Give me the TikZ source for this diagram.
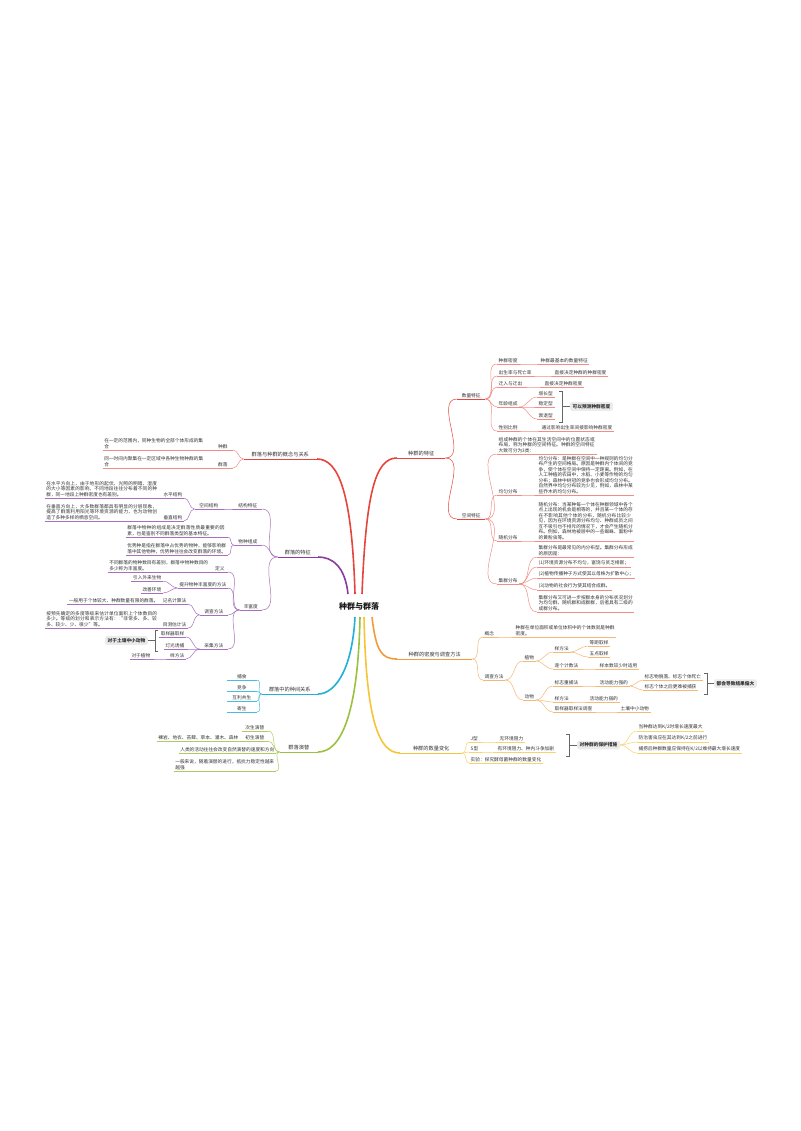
\documentclass[tikz,border=0pt]{standalone}
\usepackage{fontspec}
\setmainfont{Noto Sans CJK SC}
\XeTeXlinebreaklocale "zh"
\XeTeXlinebreakskip=0pt plus 1pt
\definecolor{redA}{HTML}{E5453C}
\definecolor{redB}{HTML}{F08E86}
\definecolor{oraA}{HTML}{F39A3A}
\definecolor{oraB}{HTML}{F6B877}
\definecolor{yelA}{HTML}{F5C537}
\definecolor{yelB}{HTML}{F6D46E}
\definecolor{purA}{HTML}{8A3BA0}
\definecolor{purB}{HTML}{A870BC}
\definecolor{cyaA}{HTML}{22B0D6}
\definecolor{cyaB}{HTML}{45BEDF}
\definecolor{grnA}{HTML}{9DC03F}
\definecolor{grnB}{HTML}{AFCB5F}
\definecolor{boxg}{HTML}{EBEBEB}
\definecolor{txt}{HTML}{333333}
\newcommand\mmR[3]{\draw[draw=#1,line width=0.5pt] (#2.south east) to[out=0,in=180] (#3.south west);}
\newcommand\mmL[3]{\draw[draw=#1,line width=0.5pt] (#2.south west) to[out=180,in=0] (#3.south east);}
\begin{document}
\begin{tikzpicture}[x=1pt,y=-1pt,
  t/.style={font=\fontsize{4.7}{5.5}\selectfont, inner xsep=1.5pt, inner ysep=1.2pt, text=txt},
  u/.style 2 args={append after command={(\tikzlastnode.south west) edge[draw=#1,line width=#2] (\tikzlastnode.south east)}},
  R/.style={t,anchor=south west,u={#1}{0.5pt}},
  L/.style={t,anchor=south east,u={#1}{0.5pt}},
  P/.style={text width=#1, align=left},
  mainR/.style={t,font=\fontsize{5.2}{6}\selectfont,inner ysep=1.5pt,anchor=south west,u={#1}{0.9pt}},
  mainL/.style={t,font=\fontsize{5.2}{6}\selectfont,inner ysep=1.5pt,anchor=south east,u={#1}{0.9pt}},
  gbox/.style={fill=boxg, rounded corners=1.5pt, inner xsep=2.5pt, inner ysep=2pt, text=txt, font=\fontsize{4.7}{5.5}\selectfont\bfseries},
  brk/.style={draw=black!60, line width=0.5pt}
]
\useasboundingbox[fill=white] (0,0) rectangle (800,1131);

% root
\node[font=\fontsize{8}{9}\selectfont\bfseries, text=black!90] (root) at (359,606) {种群与群落};
\coordinate (sR1) at (362,594);
\coordinate (sL1) at (355,594);
\coordinate (sP) at (348,594);
\coordinate (sC) at (355,617);
\coordinate (sG) at (360,617);
\coordinate (sY) at (364,617);
\coordinate (sO) at (372,617);

%%%%%%%%%%%%%%%% RIGHT: 种群的特征
\node[mainR=redA,minimum width=48pt] (n1) at (397,458) {种群的特征};
\node[R=redA,minimum width=28pt] (n11) at (457,399) {数量特征};
\node[R=redA,minimum width=28pt] (n12) at (457,519) {空间特征};

\node[R=redB] (a1) at (497,364) {种群密度};
\node[R=redB] (a1c) at (539,364) {种群最基本的数量特征};
\node[R=redB] (a2) at (497,376) {出生率与死亡率};
\node[R=redB] (a2c) at (553,376) {直接决定种群的种群密度};
\node[R=redB] (a3) at (497,387) {迁入与迁出};
\node[R=redB] (a3c) at (543,387) {直接决定种群密度};
\node[R=redB] (a4) at (497,407) {年龄组成};
\node[R=redB] (a41) at (537,397) {增长型};
\node[R=redB] (a42) at (537,407) {稳定型};
\node[R=redB] (a43) at (537,419) {衰退型};
\node[R=redB] (a5) at (497,431) {性别比例};
\node[R=redB] (a5c) at (540,431) {通过影响出生率间接影响种群密度};
\draw[brk] (559,391) -- (562,391) -- (562,422) -- (559,422);
\node[gbox,anchor=west] (bx1) at (570,406.5) {可以预测种群密度};
\draw[brk] (562,406.5) -- (bx1.west);

\node[R=redB,P=97pt] (b0) at (497,454) {组成种群的个体在其生活空间中的位置状态或布局，称为种群的空间特征。种群的空间特征大致可分为3类：};
\node[R=redB] (b1) at (497,495) {均匀分布};
\node[R=redB,P=94pt] (b1c) at (537,495) {均匀分布：是种群在空间中一种规则的均匀分布产生的空间格局。原因是种群内个体间的竞争，使个体在空间中保持一定距离。例如，在人工种植的农田中，水稻、小麦等作物的均匀分布；森林中树冠的竞争也会形成均匀分布。自然界中均匀分布较为少见，例如，森林中某些乔木的均匀分布。};
\node[R=redB] (b2) at (497,541) {随机分布};
\node[R=redB,P=94pt] (b2c) at (537,541) {随机分布：当某种每一个体在种群领域中各个点上出现的机会是相等的，并且某一个体的存在不影响其他个体的分布，随机分布比较少见，因为在环境资源分布均匀、种群成员之间互不吸引也不排斥的情况下，才会产生随机分布。例如，森林地被层中的一些蜘蛛、面粉中的黄粉虫等。};
\node[R=redB] (b3) at (497,584) {集群分布};
\node[R=redB,P=94pt] (b31) at (537,557) {集群分布是最常见的内分布型。集群分布形成的原因是：};
\node[R=redB] (b32) at (537,567) {(1)环境资源分布不均匀，富饶与贫乏相嵌；};
\node[R=redB] (b33) at (537,578) {(2)植物传播种子方式使其以母株为扩散中心；};
\node[R=redB] (b34) at (537,590) {(3)动物的社会行为使其结合成群。};
\node[R=redB,P=94pt] (b35) at (537,612) {集群分布又可进一步按群本身的分布状况划分为均匀群、随机群和成群群，后者具有二级的成群分布。};

\draw[redA,line width=1.6pt] (sR1) .. controls +(4,-100) and +(-22,0) .. (n1.south west);
\mmR{redA}{n1}{n11}
\mmR{redA}{n1}{n12}
\foreach \c in {a1,a2,a3,a4,a5} {\mmR{redB}{n11}{\c}}
\mmR{redB}{a1}{a1c}
\mmR{redB}{a2}{a2c}
\mmR{redB}{a3}{a3c}
\foreach \c in {a41,a42,a43} {\mmR{redB}{a4}{\c}}
\mmR{redB}{a5}{a5c}
\foreach \c in {b0,b1,b2,b3} {\mmR{redB}{n12}{\c}}
\mmR{redB}{b1}{b1c}
\mmR{redB}{b2}{b2c}
\foreach \c in {b31,b32,b33,b34,b35} {\mmR{redB}{b3}{\c}}

%%%%%%%%%%%%%%%% RIGHT: 种群的密度与调查方法
\node[mainR=oraA,minimum width=75pt] (n2) at (397,659) {种群的密度与调查方法};
\node[R=oraB] (c1) at (483,637) {概念};
\node[R=oraB,P=99pt] (c1c) at (514,637) {种群在单位面积或单位体积中的个体数就是种群密度。};
\node[R=oraB] (c2) at (483,680) {调查方法};
\node[R=oraB] (c21) at (523,661) {植物};
\node[R=oraB] (c211) at (553,652) {样方法};
\node[R=oraB] (c2111) at (588,646) {等距取样};
\node[R=oraB] (c2112) at (588,657) {五点取样};
\node[R=oraB] (c212) at (553,669) {逐个计数法};
\node[R=oraB] (c212c) at (598,669) {样本数较少时适用};
\node[R=oraB] (c22) at (523,700) {动物};
\node[R=oraB] (c221) at (553,686) {标志重捕法};
\node[R=oraB] (c221c) at (598,686) {活动能力强的};
\node[R=oraB] (c2211) at (643,680) {标志物脱落、标志个体死亡};
\node[R=oraB] (c2212) at (643,690) {标志个体之后更难被捕获};
\node[R=oraB] (c222) at (553,702) {样方法};
\node[R=oraB] (c222c) at (588,702) {活动能力弱的};
\node[R=oraB] (c223) at (553,712) {取样器取样法调查};
\node[R=oraB] (c223c) at (619,712) {土壤中小动物};
\draw[brk] (704,673) -- (707,673) -- (707,694) -- (704,694);
\node[gbox,anchor=west] (bx2) at (714,683.5) {都会导致结果偏大};
\draw[brk] (707,683.5) -- (bx2.west);

\draw[oraA,line width=1.6pt] (sO) .. controls +(4,35) and +(-15,0) .. (n2.south west);
\mmR{oraB}{n2}{c1}
\mmR{oraB}{n2}{c2}
\mmR{oraB}{c1}{c1c}
\mmR{oraB}{c2}{c21}
\mmR{oraB}{c2}{c22}
\mmR{oraB}{c21}{c211}
\mmR{oraB}{c21}{c212}
\mmR{oraB}{c211}{c2111}
\mmR{oraB}{c211}{c2112}
\mmR{oraB}{c212}{c212c}
\foreach \c in {c221,c222,c223} {\mmR{oraB}{c22}{\c}}
\mmR{oraB}{c221}{c221c}
\mmR{oraB}{c221c}{c2211}
\mmR{oraB}{c221c}{c2212}
\mmR{oraB}{c222}{c222c}
\mmR{oraB}{c223}{c223c}

%%%%%%%%%%%%%%%% RIGHT: 种群的数量变化
\node[mainR=yelA,minimum width=62pt] (n3) at (400,753) {种群的数量变化};
\node[R=yelB] (d1) at (469,742) {J型};
\node[R=yelB] (d1c) at (498,742) {无环境阻力};
\node[R=yelB] (d2) at (469,752) {S型};
\node[R=yelB] (d2c) at (496,752) {有环境阻力、种内斗争加剧};
\node[R=yelB] (d3) at (469,763) {实验：探究酵母菌种群的数量变化};
\draw[brk] (566,734) -- (569,734) -- (569,756) -- (566,756);
\node[gbox,anchor=west] (bx3) at (577,745) {对种群的保护措施};
\draw[brk] (569,745) -- (bx3.west);
\node[R=yelB] (e1) at (637,731) {当种群达到K/2时增长速度最大};
\node[R=yelB] (e2) at (637,742) {防治害虫应在其达到K/2之前进行};
\node[R=yelB] (e3) at (637,753) {捕捞后种群数量应保持在K/2以维持最大增长速度};

\draw[yelA,line width=1.6pt] (sY) .. controls +(2,100) and +(-22,0) .. (n3.south west);
\foreach \c in {d1,d2,d3} {\mmR{yelB}{n3}{\c}}
\mmR{yelB}{d1}{d1c}
\mmR{yelB}{d2}{d2c}
\foreach \c in {e1,e2,e3} {\draw[yelB,line width=0.5pt] (bx3.east) to[out=0,in=180] (\c.south west);}

%%%%%%%%%%%%%%%% LEFT: 群落与种群的概念与关系
\node[mainL=redA,minimum width=73pt] (m1) at (317,459) {群落与种群的概念与关系};
\node[L=redB,minimum width=20pt] (m11) at (233,450) {种群};
\node[L=redB,P=99pt] (m11c) at (205,450) {在一定的范围内，同种生物的全部个体形成的集合};
\node[L=redB,minimum width=20pt] (m12) at (233,468) {群落};
\node[L=redB,P=99pt] (m12c) at (205,468) {同一时间内聚集在一定区域中各种生物种群的集合};
\draw[redA,line width=1.6pt] (sL1) .. controls +(-3,-100) and +(22,0) .. (m1.south east);
\mmL{redB}{m1}{m11}
\mmL{redB}{m1}{m12}
\mmL{redB}{m11}{m11c}
\mmL{redB}{m12}{m12c}

%%%%%%%%%%%%%%%% LEFT: 群落的特征
\node[mainL=purA,minimum width=40pt] (m2) at (318,557) {群落的特征};
\node[L=purB,minimum width=28pt] (m21) at (262,509) {结构特征};
\node[L=purB,minimum width=28pt] (m211) at (223,509) {空间结构};
\node[L=purB] (m2111) at (184,498) {水平结构};
\node[L=purB,P=112pt] (m2111c) at (160,498) {在水平方向上，由于地形的起伏、光照的明暗、湿度的大小等因素的影响，不同地段往往分布着不同的种群，同一地段上种群密度也有差别。};
\node[L=purB] (m2112) at (184,521) {垂直结构};
\node[L=purB,P=112pt] (m2112c) at (160,521) {在垂直方向上，大多数群落都具有明显的分层现象，提高了群落利用阳光等环境资源的能力，也为动物创造了多种多样的栖息空间。};
\node[L=purB,minimum width=28pt] (m22) at (262,545) {物种组成};
\node[L=purB,P=99pt] (m221) at (228,537) {群落中物种的组成是决定群落性质最重要的因素，也是鉴别不同群落类型的基本特征。};
\node[L=purB,P=99pt] (m222) at (228,555) {优势种是指在群落中占优势的物种，能够影响群落中其他物种，优势种往往会改变群落的环境。};
\node[L=purB,minimum width=22pt] (m23) at (262,610) {丰富度};
\node[L=purB,minimum width=16pt] (m231) at (228,572) {定义};
\node[L=purB,P=99pt] (m231c) at (210,572) {不同群落的物种数目有差别，群落中物种数目的多少称为丰富度。};
\node[L=purB] (m232) at (228,588) {提升物种丰富度的方法};
\node[L=purB] (m2321) at (163,581) {引入外来生物};
\node[L=purB] (m2322) at (163,593) {改善环境};
\node[L=purB,minimum width=28pt] (m233) at (228,615) {调查方法};
\node[L=purB] (m2331) at (188,604) {记名计算法};
\node[L=purB] (m2331c) at (160,604) {一般用于个体较大、种群数量有限的群落。};
\node[L=purB] (m2332) at (188,628) {目测估计法};
\node[L=purB,P=112pt] (m2332c) at (160,628) {按预先确定的多度等级来估计单位面积上个体数目的多少。等级的划分和表示方法有：“非常多、多、较多、较少、少、很少”等。};
\node[L=purB,minimum width=28pt] (m234) at (228,649) {采集方法};
\node[L=purB] (m2341) at (186,637) {取样器取样};
\node[L=purB] (m2342) at (186,649) {灯光诱捕};
\node[L=purB] (m2343) at (186,659) {样方法};
\node[L=purB] (m2343c) at (152,659) {对于植物};
\draw[brk] (158,630) -- (155,630) -- (155,651) -- (158,651);
\node[gbox,anchor=east] (bx4) at (148,640.5) {对于土壤中小动物};
\draw[brk] (155,640.5) -- (bx4.east);

\draw[purA,line width=1.6pt] (sP) .. controls +(-3,-28) and +(14,0) .. (m2.south east);
\foreach \c in {m21,m22,m23} {\mmL{purB}{m2}{\c}}
\mmL{purB}{m21}{m211}
\mmL{purB}{m211}{m2111}
\mmL{purB}{m211}{m2112}
\mmL{purB}{m2111}{m2111c}
\mmL{purB}{m2112}{m2112c}
\mmL{purB}{m22}{m221}
\mmL{purB}{m22}{m222}
\foreach \c in {m231,m232,m233,m234} {\mmL{purB}{m23}{\c}}
\mmL{purB}{m231}{m231c}
\mmL{purB}{m232}{m2321}
\mmL{purB}{m232}{m2322}
\mmL{purB}{m233}{m2331}
\mmL{purB}{m233}{m2332}
\mmL{purB}{m2331}{m2331c}
\mmL{purB}{m2332}{m2332c}
\foreach \c in {m2341,m2342,m2343} {\mmL{purB}{m234}{\c}}
\mmL{purB}{m2343}{m2343c}

%%%%%%%%%%%%%%%% LEFT: 群落中的种间关系
\node[mainL=cyaA,minimum width=56pt] (m3) at (318,694) {群落中的种间关系};
\node[L=cyaB,minimum width=30pt] (m31) at (257,680) {捕食};
\node[L=cyaB,minimum width=30pt] (m32) at (257,691) {竞争};
\node[L=cyaB,minimum width=30pt] (m33) at (257,701) {互利共生};
\node[L=cyaB,minimum width=30pt] (m34) at (257,712) {寄生};
\draw[cyaA,line width=1.6pt] (sC) .. controls +(-3,55) and +(16,0) .. (m3.south east);
\foreach \c in {m31,m32,m33,m34} {\mmL{cyaB}{m3}{\c}}

%%%%%%%%%%%%%%%% LEFT: 群落演替
\node[mainL=grnA,minimum width=38pt] (m4) at (318,752) {群落演替};
\node[L=grnB,minimum width=26pt] (m41) at (268,731) {次生演替};
\node[L=grnB,minimum width=26pt] (m42) at (268,741) {初生演替};
\node[L=grnB] (m42c) at (240,741) {裸岩、地衣、苔藓、草本、灌木、森林};
\node[L=grnB] (m43) at (276,753) {人类的活动往往会改变自然演替的速度和方向};
\node[L=grnB,P=99pt] (m44) at (276,771) {一般来说，随着演替的进行，抵抗力稳定性越来越强};
\draw[grnA,line width=1.6pt] (sG) .. controls +(-2,100) and +(22,0) .. (m4.south east);
\foreach \c in {m41,m42,m43,m44} {\mmL{grnB}{m4}{\c}}
\mmL{grnB}{m42}{m42c}
\end{tikzpicture}
\end{document}
